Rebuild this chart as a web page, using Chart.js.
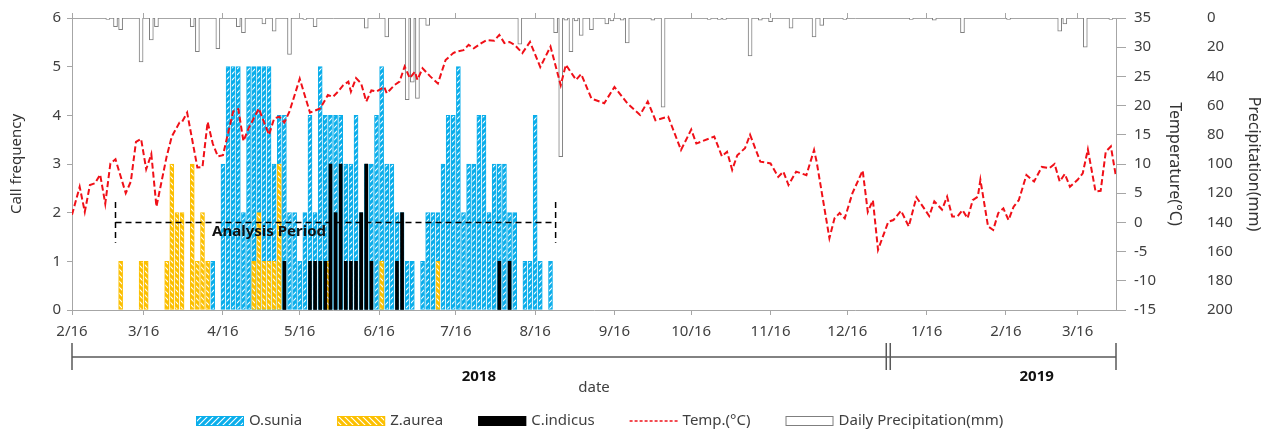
<!DOCTYPE html>
<html>
<head>
<meta charset="utf-8">
<script src="https://cdn.jsdelivr.net/npm/chart.js@4.4.1/dist/chart.umd.min.js"></script>
<style>
  html, body { margin: 0; padding: 0; background: #fff; }
</style>
</head>
<body>
<canvas id="grafica" width="1273" height="433"></canvas>
<script>
// days are counted from 2018-02-16 (day 0) to 2019-03-31 (day 408)
const tickDays = [0, 28, 59, 89, 120, 150, 181, 212, 242, 273, 303, 334, 365, 393];
const tickLabels = ['2/16', '3/16', '4/16', '5/16', '6/16', '7/16', '8/16', '9/16', '10/16', '11/16', '12/16', '1/16', '2/16', '3/16'];

const osuniaDays = [55, 59, 61, 63, 65, 67, 69, 71, 73, 75, 77, 79, 81, 83, 85, 87, 89, 91, 93, 95, 97, 99, 101, 103, 105, 107, 109, 111, 113, 115, 117, 119, 121, 123, 125, 127, 129, 131, 133, 137, 139, 141, 143, 145, 147, 149, 151, 153, 155, 157, 159, 161, 163, 165, 167, 169, 171, 173, 177, 179, 181, 183, 187];
const osuniaCalls = [1, 3, 5, 5, 5, 2, 5, 5, 5, 5, 5, 3, 4, 4, 2, 2, 1, 2, 4, 2, 5, 4, 4, 4, 4, 3, 3, 4, 2, 3, 3, 4, 5, 3, 3, 2, 2, 1, 1, 1, 2, 2, 2, 3, 4, 4, 5, 2, 3, 3, 4, 4, 2, 3, 3, 3, 2, 2, 1, 1, 4, 1, 1];

const zaureaDays = [19, 27, 29, 37, 39, 41, 43, 47, 49, 51, 53, 71, 73, 75, 77, 79, 81, 100, 121, 143];
const zaureaCalls = [1, 1, 1, 1, 3, 2, 2, 3, 1, 2, 1, 1, 2, 1, 1, 1, 3, 1, 1, 1];

const cindicusDays = [83, 93, 95, 97, 99, 101, 103, 105, 107, 109, 111, 113, 115, 117, 127, 129, 167, 171];
const cindicusCalls = [1, 1, 1, 1, 1, 3, 2, 3, 1, 1, 1, 2, 3, 1, 1, 2, 1, 1];

const tempDays = [0, 3, 5, 7, 9, 11, 13, 15, 17, 21, 23, 25, 27, 29, 31, 33, 37, 39, 42, 43, 45, 47, 49, 51, 53, 55, 57, 59, 61, 63, 65, 67, 69, 73, 75, 77, 79, 81, 83, 85, 89, 93, 97, 100, 102, 104, 106, 108, 109, 111, 113, 115, 117, 119, 122, 123, 126, 128, 130, 132, 134, 135, 137, 140, 143, 146, 149, 150, 153, 155, 157, 160, 162, 165, 167, 169, 171, 173, 176, 179, 183, 187, 191, 193, 197, 199, 203, 208, 212, 217, 222, 225, 228, 233, 238, 242, 244, 251, 254, 256, 258, 260, 263, 265, 269, 273, 276, 278, 280, 283, 287, 290, 291, 296, 298, 300, 302, 305, 309, 311, 313, 315, 319, 321, 324, 327, 330, 333, 335, 337, 340, 342, 344, 346, 348, 350, 352, 354, 355, 358, 360, 362, 364, 366, 368, 370, 373, 376, 379, 382, 384, 386, 388, 390, 393, 395, 397, 400, 402, 404, 406, 408];
const tempValues = [1.3, 6.1, 1.8, 6.4, 6.7, 8.2, 3.2, 10.1, 10.8, 5.0, 7.0, 13.8, 14.3, 9.1, 11.7, 2.7, 11.3, 14.7, 17.1, 17.2, 18.8, 14.1, 9.4, 9.5, 17.2, 13.5, 11.3, 11.5, 15.3, 19.0, 19.4, 13.9, 16.1, 19.5, 17.2, 15.0, 17.8, 18.1, 17.1, 19.0, 24.6, 18.8, 19.5, 21.8, 21.5, 22.4, 23.5, 24.1, 22.4, 24.7, 23.8, 20.7, 22.6, 22.4, 23.2, 22.1, 23.5, 24.1, 26.7, 24.7, 25.8, 24.4, 26.4, 25.0, 23.8, 27.8, 29.0, 29.2, 29.5, 30.4, 29.8, 30.7, 31.2, 31.1, 32.1, 30.7, 30.9, 30.4, 29.0, 30.9, 26.6, 30.1, 23.5, 27.0, 24.4, 25.4, 21.2, 20.4, 23.2, 20.4, 18.4, 20.7, 17.5, 18.1, 12.4, 15.9, 13.5, 14.7, 11.3, 12.1, 9.0, 11.5, 12.7, 15.0, 10.4, 10.1, 7.8, 8.7, 6.4, 8.7, 8.1, 12.4, 10.4, -2.7, 0.7, 1.6, 0.7, 5.0, 8.9, 1.8, 3.8, -4.7, 0.1, 0.4, 2.0, -0.7, 4.3, 2.4, 1.1, 3.6, 2.2, 4.4, 1.0, 1.0, 2.1, 0.7, 3.8, 4.4, 7.3, -0.7, -1.3, 1.6, 2.4, 0.4, 2.7, 3.8, 8.1, 7.0, 9.5, 9.3, 10.0, 7.0, 8.3, 6.1, 7.3, 8.4, 12.5, 5.3, 5.4, 12.1, 13.0, 7.8];

const rainDays = [14, 17, 19, 27, 31, 33, 47, 49, 57, 65, 67, 75, 79, 85, 91, 95, 115, 123, 131, 133, 135, 139, 175, 189, 191, 193, 195, 197, 199, 203, 209, 211, 215, 217, 227, 231, 249, 253, 255, 265, 269, 273, 281, 290, 293, 302, 328, 337, 348, 366, 386, 388, 396, 406];
const rainValues = [1, 6, 8, 30, 15, 6, 6, 23, 21, 6, 10, 4, 9, 25, 1, 6, 7, 13, 56, 44, 55, 5, 18, 10, 95, 1.5, 23, 2, 12, 8, 4, 2, 1.5, 17, 1.5, 61, 1, 1, 1, 26, 1.5, 2.5, 7, 13, 5, 1, 1, 1.5, 10, 1, 9, 4, 20, 1];

const yearLabels = ['2018', '2019'];
const yearBounds = [0, 319, 408];
const yearLabelDays = [159, 377];

const analysisStart = 17;
const analysisEnd = 189;
const analysisLevel = 1.8;

const BLUE = '#0AAEEB';
const YELLOW = '#FCC000';
const RED = '#F01018';
const AXIS = '#A6A6A6';
const FONT = "'Noto Sans', sans-serif";

Chart.defaults.font.family = FONT;
Chart.defaults.font.size = 15;
Chart.defaults.color = '#404040';

function hatch(color, dir) {
  const c = document.createElement('canvas');
  c.width = 6; c.height = 6;
  const g = c.getContext('2d');
  g.fillStyle = color;
  g.fillRect(0, 0, 6, 6);
  g.strokeStyle = '#fff';
  g.lineWidth = 1.1;
  g.beginPath();
  if (dir > 0) {
    g.moveTo(0, 6); g.lineTo(6, 0);
    g.moveTo(-3, 3); g.lineTo(3, -3);
    g.moveTo(3, 9); g.lineTo(9, 3);
  } else {
    g.moveTo(0, 0); g.lineTo(6, 6);
    g.moveTo(-3, 3); g.lineTo(3, 9);
    g.moveTo(3, -3); g.lineTo(9, 3);
  }
  g.stroke();
  return g.createPattern(c, 'repeat');
}

const bluePattern = hatch(BLUE, 1);
const yellowPattern = hatch(YELLOW, -1);

const pts = (xs, ys) => xs.map((d, i) => ({ x: d, y: ys[i] }));

const extras = {
  id: 'extras',
  afterDatasetsDraw(chart) {
    const { ctx, scales: { x, y } } = chart;
    const x1 = x.getPixelForValue(analysisStart);
    const x2 = x.getPixelForValue(analysisEnd);
    const yl = y.getPixelForValue(analysisLevel);
    const yt = y.getPixelForValue(analysisLevel + 0.42);
    const yb = y.getPixelForValue(analysisLevel - 0.42);
    ctx.save();
    ctx.strokeStyle = '#000';
    ctx.lineWidth = 1.5;
    ctx.setLineDash([6, 4]);
    ctx.beginPath();
    ctx.moveTo(x1, yt); ctx.lineTo(x1, yb);
    ctx.moveTo(x1, yl); ctx.lineTo(x2, yl);
    ctx.moveTo(x2, yt); ctx.lineTo(x2, yb);
    ctx.stroke();
    ctx.setLineDash([]);
    ctx.font = 'bold 15px ' + FONT;
    ctx.fillStyle = '#111';
    ctx.textAlign = 'center';
    ctx.textBaseline = 'middle';
    ctx.fillText('Analysis Period', x.getPixelForValue(77), y.getPixelForValue(1.6));
    ctx.restore();
  },
  afterDraw(chart) {
    const { ctx, chartArea, scales: { x } } = chart;
    const lineY = chartArea.bottom + 47;
    ctx.save();
    // year bracket under the axis
    ctx.strokeStyle = '#595959';
    ctx.lineWidth = 1.5;
    ctx.beginPath();
    ctx.moveTo(x.getPixelForValue(yearBounds[0]), lineY);
    ctx.lineTo(x.getPixelForValue(yearBounds[2]), lineY);
    [yearBounds[0], yearBounds[2]].forEach(d => {
      const px = x.getPixelForValue(d);
      ctx.moveTo(px, lineY - 14); ctx.lineTo(px, lineY + 13);
    });
    const mid = x.getPixelForValue(yearBounds[1]);
    [-2, 2].forEach(o => { ctx.moveTo(mid + o, lineY - 14); ctx.lineTo(mid + o, lineY + 13); });
    ctx.stroke();
    ctx.font = 'bold 15px ' + FONT;
    ctx.fillStyle = '#111';
    ctx.textAlign = 'center';
    ctx.textBaseline = 'middle';
    yearLabels.forEach((t, i) => ctx.fillText(t, x.getPixelForValue(yearLabelDays[i]), lineY + 20));

    // legend
    const ly = 421;
    let lx = 196;
    ctx.font = '15px ' + FONT;
    ctx.textAlign = 'left';
    ctx.fillStyle = '#404040';
    chart.data.datasets.slice().sort((a, b) => a.legendIndex - b.legendIndex).forEach(ds => {
      if (ds.type === 'line') {
        ctx.strokeStyle = RED;
        ctx.lineWidth = 1.5;
        ctx.setLineDash([3, 2]);
        ctx.beginPath();
        ctx.moveTo(lx, ly); ctx.lineTo(lx + 48, ly);
        ctx.stroke();
        ctx.setLineDash([]);
      } else {
        ctx.fillStyle = ds.backgroundColor;
        ctx.fillRect(lx, ly - 5, 48, 10);
        ctx.strokeStyle = ds.borderColor;
        ctx.lineWidth = 1;
        ctx.strokeRect(lx + 0.5, ly - 4.5, 47, 9);
      }
      ctx.fillStyle = '#404040';
      ctx.fillText(ds.label, lx + 53, ly);
      lx += 53 + ctx.measureText(ds.label).width + 35;
    });
    ctx.restore();
  }
};

new Chart(document.getElementById('grafica').getContext('2d'), {
  type: 'bar',
  data: {
    datasets: [
      {
        type: 'line', label: 'Temp.(°C)', legendIndex: 3,
        data: pts(tempDays, tempValues), xAxisID: 'x', yAxisID: 'yT',
        borderColor: RED, borderWidth: 2, borderDash: [6, 3],
        pointRadius: 0, tension: 0, order: 0
      },
      {
        label: 'Daily Precipitation(mm)', legendIndex: 4,
        data: pts(rainDays, rainValues), xAxisID: 'x', yAxisID: 'yP',
        backgroundColor: '#fff', borderColor: '#7F7F7F', borderWidth: 1,
        barThickness: 4, grouped: false, order: 1
      },
      {
        label: 'C.indicus', legendIndex: 2,
        data: pts(cindicusDays, cindicusCalls), xAxisID: 'x', yAxisID: 'y',
        backgroundColor: '#000', borderColor: '#000', borderWidth: 0,
        barThickness: 3, grouped: false, order: 2
      },
      {
        label: 'Z.aurea', legendIndex: 1,
        data: pts(zaureaDays, zaureaCalls), xAxisID: 'x', yAxisID: 'y',
        backgroundColor: yellowPattern, borderColor: YELLOW, borderWidth: 1,
        borderSkipped: false, barThickness: 4, grouped: false, order: 3
      },
      {
        label: 'O.sunia', legendIndex: 0,
        data: pts(osuniaDays, osuniaCalls), xAxisID: 'x', yAxisID: 'y',
        backgroundColor: bluePattern, borderColor: BLUE, borderWidth: 1,
        borderSkipped: false, barThickness: 4, grouped: false, order: 4
      }
    ]
  },
  options: {
    responsive: false,
    animation: false,
    layout: { padding: { left: 5, right: 7, top: 8, bottom: 0 } },
    plugins: { legend: { display: false }, tooltip: { enabled: false } },
    scales: {
      x: {
        type: 'linear', position: 'bottom', min: 0, max: 408, offset: false,
        afterBuildTicks: s => { s.ticks = tickDays.map(v => ({ value: v })); },
        afterFit: s => { s.height = 123; },
        ticks: { autoSkip: false, maxRotation: 0, padding: 8, callback: (v, i) => tickLabels[i] },
        grid: { drawOnChartArea: false, offset: false, tickLength: 5, color: AXIS },
        border: { color: AXIS },
        title: { display: true, text: 'date', color: '#404040', font: { size: 15 }, padding: { top: 0, bottom: 36 } }
      },
      xTop: {
        type: 'linear', axis: 'x', position: 'top', min: 0, max: 408, offset: false,
        afterBuildTicks: s => { s.ticks = tickDays.map(v => ({ value: v })); },
        afterFit: s => { s.height = 10; },
        ticks: { display: false },
        grid: { drawOnChartArea: false, offset: false, tickLength: 5, color: AXIS },
        border: { color: AXIS }
      },
      y: {
        position: 'left', min: 0, max: 6,
        afterFit: s => { s.width = 67; },
        ticks: { stepSize: 1, padding: 6 },
        grid: { drawOnChartArea: false, tickLength: 5, color: AXIS },
        border: { color: AXIS },
        title: { display: true, text: 'Call frequency', color: '#333', font: { size: 15 }, padding: { top: 3, bottom: 0 } }
      },
      yT: {
        position: 'right', min: -15, max: 35, weight: 1,
        afterFit: s => { s.width = 71; },
        ticks: { stepSize: 5, padding: 8 },
        grid: { drawOnChartArea: false, tickLength: 10, color: AXIS },
        border: { color: AXIS },
        title: { display: true, text: 'Temperature(°C)', color: '#333', font: { size: 16 }, padding: { top: 3, bottom: 0 } }
      },
      yP: {
        position: 'right', min: 0, max: 200, reverse: true, weight: 2,
        afterFit: s => { s.width = 79; },
        ticks: { stepSize: 20, padding: 2 },
        grid: { display: false, drawTicks: true, tickLength: 18 },
        border: { display: false },
        title: { display: true, text: 'Precipitation(mm)', color: '#333', font: { size: 16 }, padding: { top: 3, bottom: 0 } }
      }
    }
  },
  plugins: [extras]
});
</script>
</body>
</html>
